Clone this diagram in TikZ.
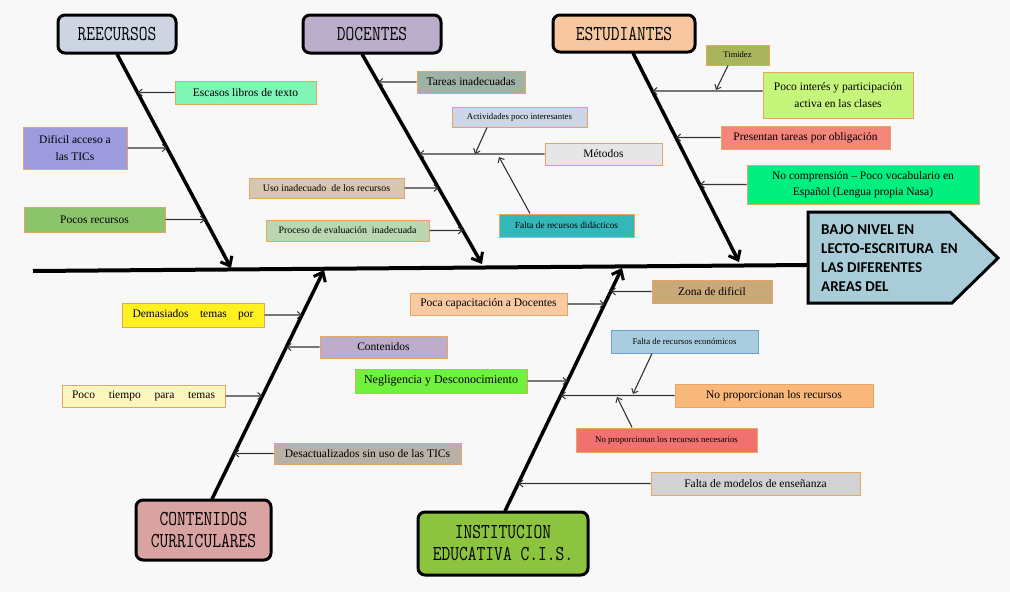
\documentclass[tikz,border=0pt]{standalone}
\usepackage{fontspec}
\setmainfont{Liberation Serif}
\newfontfamily\calib{Carlito}
\usetikzlibrary{arrows.meta,calc}
\definecolor{bgc}{HTML}{F8F8F8}
\definecolor{cbord}{HTML}{E6A662}
\definecolor{recc}{HTML}{CDD5E3}
\definecolor{docc}{HTML}{BBAECB}
\definecolor{estc}{HTML}{F6C7A0}
\definecolor{conc}{HTML}{D9A3A1}
\definecolor{insc}{HTML}{8CC43F}
\definecolor{effc}{HTML}{A8CDD8}
\definecolor{escc}{HTML}{80F5B8}
\definecolor{difc}{HTML}{9D9BDD}
\definecolor{pocc}{HTML}{8CC46C}
\definecolor{tarc}{HTML}{9EB2A6}
\definecolor{actc}{HTML}{CCD6E6}
\definecolor{metc}{HTML}{E6E6E6}
\definecolor{falc}{HTML}{33B7B8}
\definecolor{usoc}{HTML}{D7C7AE}
\definecolor{proc}{HTML}{BAD7B2}
\definecolor{timc}{HTML}{A8B55C}
\definecolor{intc}{HTML}{C6F57C}
\definecolor{prec}{HTML}{F4857B}
\definecolor{nocc}{HTML}{00EF80}
\definecolor{demc}{HTML}{FFF021}
\definecolor{contc}{HTML}{BCADCB}
\definecolor{tiec}{HTML}{FFF6BF}
\definecolor{desc}{HTML}{B9B0A8}
\definecolor{capc}{HTML}{F9C9A2}
\definecolor{zonc}{HTML}{C9A97A}
\definecolor{ecoc}{HTML}{A9CDE0}
\definecolor{ecob}{HTML}{6E9FD0}
\definecolor{negc}{HTML}{72F040}
\definecolor{noprc}{HTML}{F9B879}
\definecolor{necc}{HTML}{F17171}
\definecolor{modc}{HTML}{D2D2D2}
\newcommand\hdtxt[1]{\scalebox{1}[1.25]{\ttfamily #1}}
\begin{document}
\begin{tikzpicture}[x=1pt,y=-1pt,
  head/.style={draw=black,line width=3pt,rounded corners=7pt,inner sep=0pt,align=center,font=\fontsize{17}{22}\selectfont},
  cause/.style={draw=cbord,line width=1pt,inner sep=0pt,align=center,font=\fontsize{11.5}{16.5}\selectfont},
  small/.style={font=\fontsize{9}{11}\selectfont},
  sz/.style 2 args={minimum width=#1,minimum height=#2},
  bone/.style={line width=3.5pt,-{Straight Barb[length=8pt,width=13pt,line width=3pt]}},
  carrow/.style={line width=1.1pt,draw=black!80,-{Straight Barb[length=4pt,width=7pt,line width=1pt]}},
]
\fill[bgc] (0,0) rectangle (1010,592);
\useasboundingbox (0,0) rectangle (1010,592);

% effect
\draw[fill=effc,line width=3pt,line join=miter] (808,212) -- (950,212) -- (998,258) -- (952,303) -- (808,303) -- cycle;
\node[anchor=north west,inner sep=0pt,align=left,font=\calib\bfseries\fontsize{15}{19}\selectfont] (eff) at (821,224)
  {BAJO NIVEL EN\\LECTO-ESCRITURA\ \ EN\\LAS DIFERENTES\\AREAS DEL};

% spine
\coordinate (spL) at (33,271);
\coordinate (spR) at (808,265);
\draw[line width=4pt] (spL) -- (spR);

% heads
\node[head,fill=recc,sz={118}{38}] (rec) at (117,34) {\hdtxt{REECURSOS}};
\node[head,fill=docc,sz={138}{38}] (doc) at (372,34) {\hdtxt{DOCENTES}};
\node[head,fill=estc,sz={142}{37}] (est) at (624,33.5) {\hdtxt{ESTUDIANTES}};
\node[head,fill=conc,sz={135}{60}] (con) at (203.5,530) {\hdtxt{CONTENIDOS}\\\hdtxt{CURRICULARES}};
\node[head,fill=insc,sz={170}{63}] (ins) at (503,543.5) {\hdtxt{INSTITUCION}\\\hdtxt{EDUCATIVA C.I.S.}};

% bones
\coordinate (rs) at (117,54);
\coordinate (re) at (231,268);
\coordinate (ds) at (362,54);
\coordinate (de) at (482,264);
\coordinate (es) at (633,53);
\coordinate (ee) at (739,262);
\coordinate (cs) at (212,499);
\coordinate (ce) at (324,270);
\coordinate (is) at (505,511);
\coordinate (ie) at (622,268);
\draw[bone] (rs) -- (re);
\draw[bone] (ds) -- (de);
\draw[bone] (es) -- (ee);
\draw[bone] (cs) -- (ce);
\draw[bone] (is) -- (ie);

% REECURSOS causes
\node[cause,fill=escc,sz={141}{23}] (esc) at (245.5,92.5) {Escasos libros de texto};
\node[cause,fill=difc,sz={104}{42}] (dif) at (75,148) {Dificil acceso a\\las TICs};
\node[cause,fill=pocc,sz={141}{25}] (poc) at (94.5,219.5) {Pocos recursos};
\draw[carrow] (esc.west) -- (intersection of rs--re and esc.west--esc.east);
\draw[carrow] (dif.east) -- (intersection of rs--re and dif.west--dif.east);
\draw[carrow] (poc.east) -- (intersection of rs--re and poc.west--poc.east);

% DOCENTES causes
\node[cause,fill=tarc,sz={108}{22}] (tar) at (471,82) {Tareas inadecuadas};
\node[cause,fill=actc,sz={135}{20},font=\fontsize{8.8}{10}\selectfont] (act) at (519.5,117) {Actividades poco interesantes};
\node[cause,fill=metc,sz={117}{22}] (met) at (603.5,154) {Métodos};
\node[cause,fill=falc,sz={135}{23},font=\fontsize{9.3}{11}\selectfont] (fal) at (566.5,225.5) {Falta de recursos didácticos};
\node[cause,fill=usoc,sz={155}{20},font=\fontsize{9.9}{11}\selectfont] (uso) at (326.5,188) {Uso inadecuado\ \ de los recursos};
\node[cause,fill=proc,sz={163}{21},font=\fontsize{9.9}{11}\selectfont] (pro) at (347.5,230.5) {Proceso de evaluación\ \ inadecuada};
\draw[carrow] (tar.west) -- (intersection of ds--de and tar.west--tar.east);
\draw[carrow] (met.west) -- (intersection of ds--de and met.west--met.east);
\draw[carrow] (uso.east) -- (intersection of ds--de and uso.west--uso.east);
\draw[carrow] (pro.east) -- (intersection of ds--de and pro.west--pro.east);
\coordinate (mA) at (475,154);
\coordinate (mB) at (499,157);
\draw[carrow] ([xshift=-32.5pt]act.south) -- (mA);
\draw[carrow] ([xshift=-36.5pt]fal.north) -- (mB);

% ESTUDIANTES causes
\node[cause,fill=timc,sz={63}{20},font=\fontsize{8.5}{10}\selectfont] (tim) at (737.5,55) {Timidez};
\node[cause,fill=intc,sz={150}{46}] (int) at (838,95) {Poco interés y participación\\activa en las clases};
\node[cause,fill=prec,sz={169}{23}] (pre) at (805.5,137.5) {Presentan tareas por obligación};
\node[cause,fill=nocc,sz={232}{39},font=\fontsize{11.5}{16}\selectfont] (noc) at (863,184.5) {No comprensión -- Poco vocabulario en\\Español (Lengua propia Nasa)};
\coordinate (intA) at ([yshift=4pt]int.west);
\coordinate (intB) at ([yshift=4pt]int.east);
\draw[carrow] (intA) -- (intersection of es--ee and intA--intB);
\draw[carrow] (pre.west) -- (intersection of es--ee and pre.west--pre.east);
\draw[carrow] (noc.west) -- (intersection of es--ee and noc.west--noc.east);
\coordinate (tA) at (716,90);
\draw[carrow] ([xshift=-9.5pt]tim.south) -- (tA);

% CONTENIDOS causes
\node[cause,fill=demc,sz={142}{24}] (dem) at (193,315) {\makebox[121pt][s]{Demasiados temas por}};
\node[cause,fill=contc,sz={127}{22}] (cont) at (383.5,347) {Contenidos};
\node[cause,fill=tiec,sz={163}{22}] (tie) at (143.5,396) {\makebox[143pt][s]{Poco tiempo para temas}};
\node[cause,fill=desc,sz={187}{21}] (desa) at (367.5,453.5) {Desactualizados sin uso de las TICs};
\draw[carrow] (dem.east) -- (intersection of cs--ce and dem.west--dem.east);
\draw[carrow] (cont.west) -- (intersection of cs--ce and cont.west--cont.east);
\draw[carrow] (tie.east) -- (intersection of cs--ce and tie.west--tie.east);
\draw[carrow] (desa.west) -- (intersection of cs--ce and desa.west--desa.east);

% INSTITUCION causes
\node[cause,fill=capc,sz={157}{22}] (cap) at (488.5,304) {Poca capacitación a Docentes};
\node[cause,fill=zonc,sz={120}{23}] (zon) at (712,291.5) {Zona de dificil};
\node[cause,draw=ecob,fill=ecoc,sz={147}{23},font=\fontsize{8.8}{10}\selectfont] (eco) at (684.5,341.5) {Falta de recursos económicos};
\node[cause,fill=negc,sz={172}{24},font=\fontsize{12}{14}\selectfont] (neg) at (441,381) {Negligencia y Desconocimiento};
\node[cause,fill=noprc,sz={198}{23}] (nopr) at (774,395.5) {No proporcionan los recursos};
\node[cause,fill=necc,sz={181}{24},font=\fontsize{8.8}{10}\selectfont] (nec) at (666.5,440) {No proporcionan los recursos necesarios};
\node[cause,fill=modc,sz={209}{23}] (mod) at (755.5,483.5) {Falta de modelos de enseñanza};
\draw[carrow] (cap.east) -- (intersection of is--ie and cap.west--cap.east);
\draw[carrow] (zon.west) -- (intersection of is--ie and zon.west--zon.east);
\draw[carrow] (neg.east) -- (intersection of is--ie and neg.west--neg.east);
\draw[carrow] (nopr.west) -- (intersection of is--ie and nopr.west--nopr.east);
\draw[carrow] (mod.west) -- (intersection of is--ie and mod.west--mod.east);
\coordinate (nA) at (633,394);
\coordinate (nB) at (617,397);
\draw[carrow] ([xshift=-32.5pt]eco.south) -- (nA);
\draw[carrow] ([xshift=-34.5pt]nec.north) -- (nB);
\end{tikzpicture}
\end{document}
